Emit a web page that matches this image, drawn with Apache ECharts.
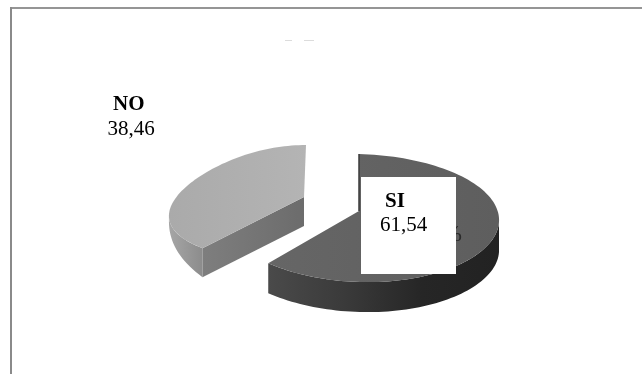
<!DOCTYPE html>
<html>
<head>
<meta charset="utf-8">
<style>html,body{margin:0;padding:0;background:#fff}#c{width:642px;height:374px}</style>
<script src="https://cdn.jsdelivr.net/npm/echarts@6/dist/echarts.min.js"></script>
</head>
<body>
<div id="c"></div>
<script>
// Survey answers, in percent
const categories = ['SI', 'NO'];
const shares = [61.54, 38.46];
const shareLabels = ['61,54', '38,46'];

// Tilted-disc geometry and shading of each wedge
const wedgeStyle = [
  { cx: 359, cy: 218, rx: 140, ry: 64, apexX: 359, apexY: 211, taper: -0.03, skew: 4, depth: 30, wallEase: 1,
    top: ['#666666', '#5e5e5e'], wall: ['#4a4a4a', '#3a3a3a', '#262626', '#222222'], cut: '#3a3a3a' },
  { cx: 306, cy: 204, rx: 134, ry: 59, apexX: 304, apexY: 197, taper: 0.22, skew: 0, depth: 29, wallEase: 0.2,
    top: ['#aaaaaa', '#b4b4b4'], wall: ['#a6a6a6', '#8c8c8c'], cut: ['#7e7e7e', '#6c6c6c'] }
];

const font = '"Liberation Serif", "Times New Roman", serif';
const total = shares.reduce((a, b) => a + b, 0);
const toRad = d => d * Math.PI / 180;

function rimPoint(s, deg) {
  const a = toRad(deg);
  const spread = 1 - s.taper * Math.cos(a);
  return [s.cx + s.rx * Math.sin(a) * spread, s.cy - s.ry * Math.cos(a) + s.skew * Math.sin(a)];
}

function arc(s, from, to) {
  const pts = [];
  const n = Math.max(2, Math.ceil(Math.abs(to - from) / 2));
  for (let i = 0; i <= n; i++) pts.push(rimPoint(s, from + (to - from) * i / n));
  return pts;
}

function hGrad(stops) {
  return new echarts.graphic.LinearGradient(0, 0, 1, 0, stops.map((c, i) => ({
    offset: i / (stops.length - 1), color: c
  })));
}

function textEl(text, x, y, weight) {
  return { type: 'text', style: { text, x, y, fill: '#000', font: weight + '21px ' + font } };
}

// Visible part of the outer wall: stops at the leftmost rim point and thins out towards it
function wallPoints(s, from, to) {
  let rim = arc(s, Math.max(from, 90), Math.min(to, 270));
  if (s.wallEase < 1) {
    let left = 0;
    rim.forEach((p, i) => { if (p[0] < rim[left][0]) left = i; });
    rim = rim.slice(0, left + 1);
  }
  const last = rim.length - 1;
  const low = rim.map((p, i) => {
    const t = s.wallEase < 1 ? i / last : 0;
    return [p[0], p[1] + s.depth * (1 - t * (1 - s.wallEase))];
  });
  return rim.concat(low.reverse());
}

function renderWedge(params, api) {
  const idx = params.dataIndex;
  const s = wedgeStyle[idx];
  let start = 0;
  for (let i = 0; i < idx; i++) start += shares[i];
  const from = start / total * 360;
  const to = from + api.value(0) / total * 360;
  const children = [];

  children.push({ type: 'polygon', shape: { points: wallPoints(s, from, to) },
    style: { fill: hGrad(s.wall) } });

  // cut face of the lighter wedge, running from the rim back to the apex
  if (idx === 1) {
    const st = rimPoint(s, from);
    children.push({ type: 'polygon', shape: { points: [
      st, [s.apexX, s.apexY], [s.apexX, s.apexY + s.depth], [st[0], st[1] + s.depth]
    ] }, style: { fill: hGrad(s.cut) } });
  }

  // top face
  const topPts = [[s.apexX, s.apexY]].concat(arc(s, from, to));
  children.push({ type: 'polygon', shape: { points: topPts },
    style: { fill: hGrad(s.top) } });

  if (idx === 0) {
    // sliver of the hidden cut face along the vertical edge
    const st = rimPoint(s, from);
    children.push({ type: 'line', shape: { x1: st[0], y1: st[1], x2: s.apexX, y2: s.apexY },
      style: { stroke: s.cut, lineWidth: 1.5 } });
    // percent sign of the original label, mostly under the white box
    children.push({ type: 'text', style: { text: '%', x: 442, y: 223, fill: '#2a2a2a',
      font: '24px ' + font } });
    // white label box
    children.push({ type: 'rect', shape: { x: 361, y: 177, width: 95, height: 97 },
      style: { fill: '#fff' } });
    children.push(textEl(categories[0], 385, 191, 'bold '));
    children.push(textEl(shareLabels[0], 380, 215, ''));
  } else {
    children.push(textEl(categories[1], 113, 94, 'bold '));
    children.push(textEl(shareLabels[1], 107.5, 119, ''));
  }
  return { type: 'group', children };
}

const chart = echarts.init(document.getElementById('c'), null, { renderer: 'canvas' });
chart.setOption({
  animation: false,
  backgroundColor: '#fff',
  graphic: [
    // outer frame: top and left rules only
    { type: 'rect', shape: { x: 10, y: 7, width: 632, height: 2 }, style: { fill: '#959595' } },
    { type: 'rect', shape: { x: 10, y: 7, width: 2, height: 367 }, style: { fill: '#8a8a8a' } },
    // remnants of the erased title
    { type: 'rect', shape: { x: 285, y: 40, width: 7, height: 1 }, style: { fill: '#dcdcdc' } },
    { type: 'rect', shape: { x: 304, y: 40, width: 10, height: 1 }, style: { fill: '#dcdcdc' } }
  ],
  series: [{
    type: 'custom',
    coordinateSystem: 'none',
    renderItem: renderWedge,
    data: shares.map((v, i) => ({ name: categories[i], value: [v] }))
  }]
});
</script>
</body>
</html>
